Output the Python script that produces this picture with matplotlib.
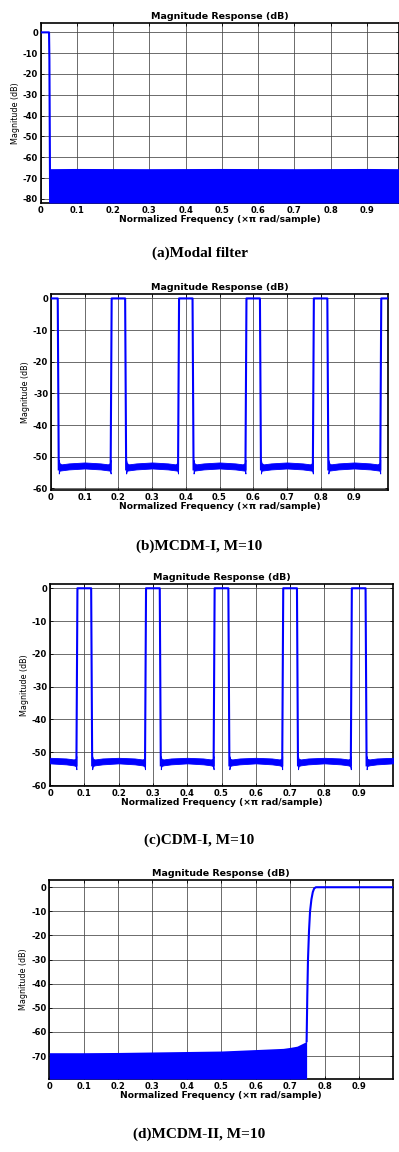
import numpy as np
import matplotlib
matplotlib.use('Agg')
import matplotlib.pyplot as plt

# ---- data ----
xticks = [0, 0.1, 0.2, 0.3, 0.4, 0.5, 0.6, 0.7, 0.8, 0.9]
xtick_labels = ['0', '0.1', '0.2', '0.3', '0.4', '0.5', '0.6', '0.7', '0.8', '0.9']

# (a) modal filter
a_line_x = [0.0, 0.023, 0.024, 0.026]
a_line_y = [0.0, 0.0, -13.0, -82.0]
a_stop_x = [0.024, 0.1, 0.3, 0.5, 0.7, 0.9, 0.99]
a_stop_top = [-65.5, -65.4, -65.5, -65.4, -65.5, -65.4, -65.5]

# (b) MCDM-I, passband centres (half width 0.02)
b_centres = [0.0, 0.2, 0.4, 0.6, 0.8, 1.0]
# (c) CDM-I, passband centres
c_centres = [-0.1, 0.1, 0.3, 0.5, 0.7, 0.9, 1.1]
half_width = 0.02
edge = 0.003

# stopband band profile between two passbands (offset from gap start)
gap_pos = [0.0, 0.002, 0.008, 0.03, 0.077, 0.124, 0.146, 0.152, 0.154]
b_gap_top = [-51.0, -52.0, -52.4, -52.1, -51.8, -52.1, -52.4, -52.0, -51.0]
b_gap_bot = [-55.3, -54.4, -54.3, -54.0, -53.7, -54.0, -54.3, -54.4, -55.3]
c_gap_top = [-51.2, -52.0, -52.2, -51.9, -51.7, -51.9, -52.2, -52.0, -51.2]
c_gap_bot = [-55.2, -54.2, -54.0, -53.7, -53.4, -53.7, -54.0, -54.2, -55.2]

# (d) MCDM-II
d_stop_x = [0.0, 0.1, 0.2, 0.3, 0.4, 0.5, 0.6, 0.68, 0.7, 0.72, 0.74, 0.748]
d_stop_top = [-68.6, -68.6, -68.5, -68.3, -68.1, -67.9, -67.3, -66.8, -66.4, -65.9, -64.5, -63.8]
d_line_x = [0.748, 0.750, 0.752, 0.755, 0.758, 0.762, 0.766, 0.770, 0.775, 1.0]
d_line_y = [-63.8, -45.0, -30.0, -18.0, -10.0, -5.0, -2.0, -0.5, 0.0, 0.0]

captions = ['(a)Modal filter', '(b)MCDM-I, M=10', '(c)CDM-I, M=10', '(d)MCDM-II, M=10']

blue = '#0000ff'
W, H = 399, 1152
fig = plt.figure(figsize=(W / 100, H / 100), dpi=100)


def make_ax(left, right, top, bottom):
    return fig.add_axes([left / W, 1 - bottom / H, (right - left) / W, (bottom - top) / H])


def style(ax, xlim, ylim, yticks):
    ax.set_xlim(*xlim)
    ax.set_ylim(*ylim)
    ax.set_xticks(xticks)
    ax.set_xticklabels(xtick_labels)
    ax.set_yticks(yticks)
    ax.set_yticklabels([str(v) for v in yticks])
    ax.grid(True, color='#444444', linewidth=0.55, zorder=0)
    ax.set_axisbelow(True)
    ax.tick_params(direction='in', top=True, right=True, length=2, width=0.6,
                   labelsize=6, pad=2)
    for lab in ax.get_xticklabels() + ax.get_yticklabels():
        lab.set_fontweight('bold')
    for sp in ax.spines.values():
        sp.set_linewidth(1.2)
    ax.set_title('Magnitude Response (dB)', fontsize=6.8, fontweight='bold', pad=3)
    ax.set_xlabel('Normalized Frequency (\u00d7\u03c0 rad/sample)', fontsize=6.6,
                  fontweight='bold', labelpad=0)
    ax.set_ylabel('Magnitude (dB)', fontsize=5.8, labelpad=2)


def passband(ax, centres, bottom_val):
    for c in centres:
        s, e = c - half_width, c + half_width
        ax.plot([s - edge, s, e, e + edge],
                [bottom_val, 0, 0, bottom_val], color=blue, lw=1.5, zorder=4)


def stopbands(ax, centres, top, bot):
    for c0, c1 in zip(centres[:-1], centres[1:]):
        g0 = c0 + half_width + edge
        xs = [g0 + p for p in gap_pos]
        ax.fill_between(xs, bot, top, color=blue, lw=0.6, edgecolor=blue, zorder=3)


# (a)
ax = make_ax(40.7, 399, 23, 203)
style(ax, (0, 0.989), (-82, 4.5), [-80, -70, -60, -50, -40, -30, -20, -10, 0])
ax.fill_between(a_stop_x, -82, a_stop_top, color=blue, lw=0, zorder=3)
ax.plot(a_line_x, a_line_y, color=blue, lw=1.5, zorder=4)

# (b)
ax = make_ax(51, 388, 294, 490)
style(ax, (0, 1.0), (-60.5, 1.4), [-60, -50, -40, -30, -20, -10, 0])
stopbands(ax, b_centres, b_gap_top, b_gap_bot)
passband(ax, b_centres, -54.0)

# (c)
ax = make_ax(50, 393, 584, 786)
style(ax, (0, 1.0), (-60.3, 1.3), [-60, -50, -40, -30, -20, -10, 0])
stopbands(ax, c_centres, c_gap_top, c_gap_bot)
passband(ax, c_centres, -54.0)

# (d)
ax = make_ax(49.3, 393.3, 880, 1079)
style(ax, (0, 1.0), (-79.5, 3), [-70, -60, -50, -40, -30, -20, -10, 0])
ax.fill_between(d_stop_x, -79.5, d_stop_top, color=blue, lw=0, zorder=3)
ax.plot(d_line_x, d_line_y, color=blue, lw=1.5, zorder=4)

for cap, y in zip(captions, [253, 546, 840, 1134]):
    fig.text(0.5, 1 - y / H, cap, ha='center', va='center', fontsize=11,
             fontweight='bold', family='Liberation Serif')

fig.savefig('out.png', dpi=100)
